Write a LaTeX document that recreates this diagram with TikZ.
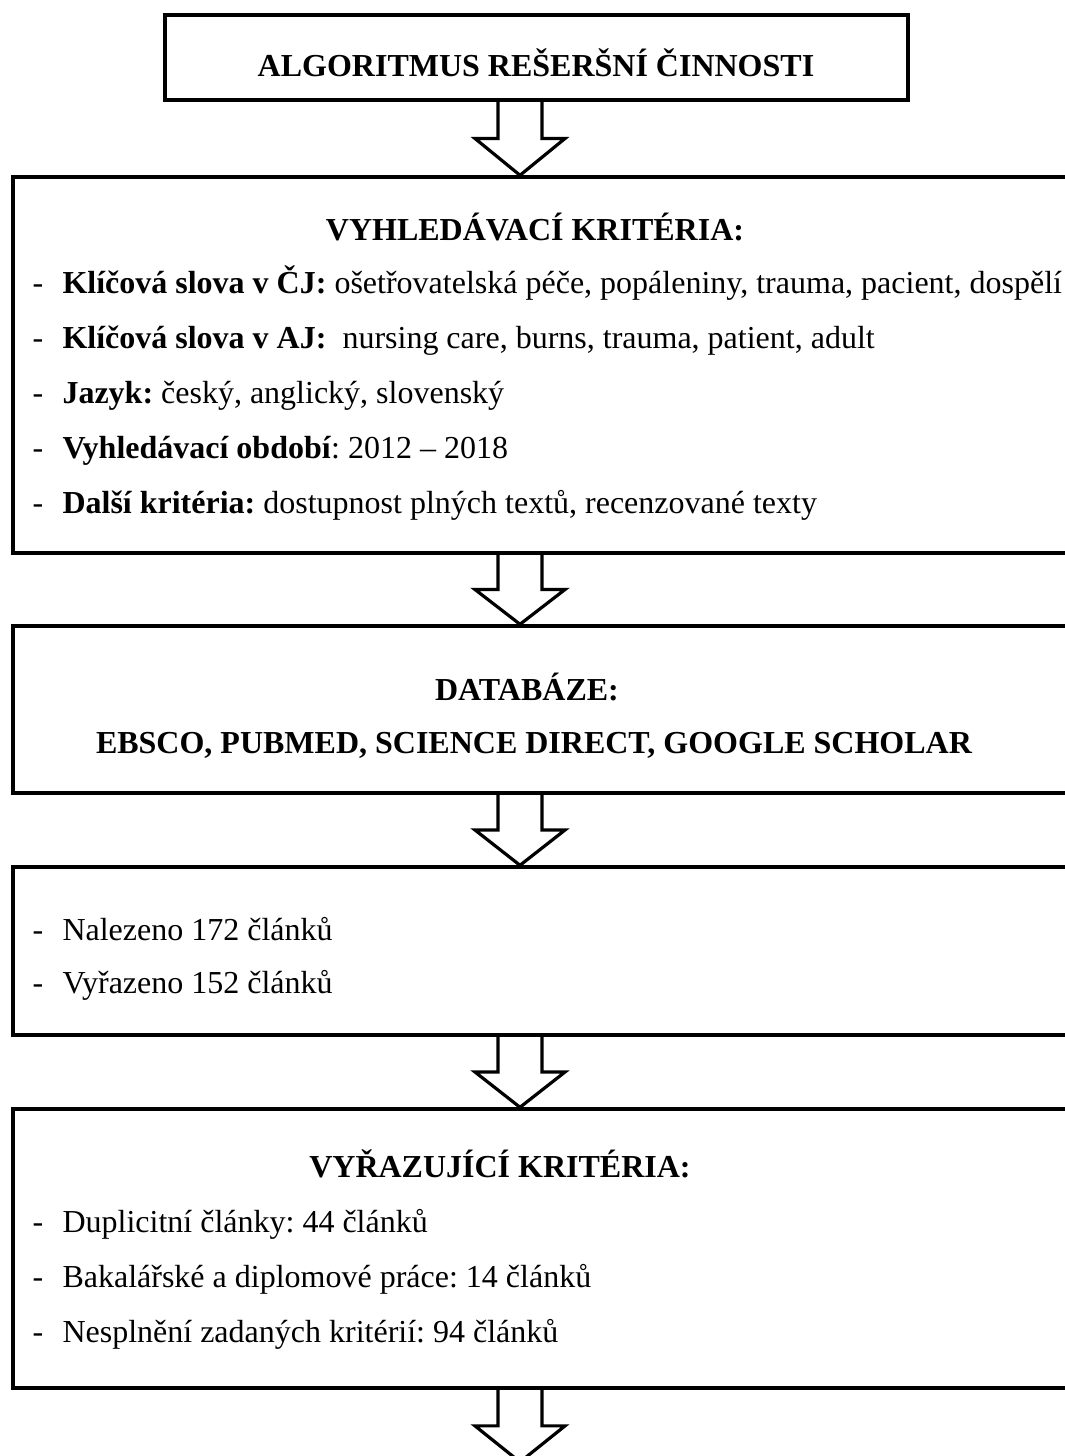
\documentclass[tikz,border=0pt]{standalone}
\usepackage{fontspec}
\setmainfont{Liberation Serif}[BoldFont={Liberation Serif Bold},ItalicFont={Liberation Serif Italic}]
\usetikzlibrary{positioning,calc,fit}
\frenchspacing

\newcommand\basefont{\fontsize{12pt}{14pt}\selectfont}
\newcommand\dashitem[1]{\makebox[11.25pt][l]{-}#1}
% block arrow from one box to the next, on the arrow column ax
\newcommand\blockarrow[2]{%
  \draw[blockarrow] ($(#1 -| ax)+(-22,0)$) -- ($(#1 -| ax)!.5!(#2 -| ax)+(-22,0)$)
    -- ($(#1 -| ax)!.5!(#2 -| ax)+(-45,0)$) -- (#2 -| ax)
    -- ($(#1 -| ax)!.5!(#2 -| ax)+(45,0)$) -- ($(#1 -| ax)!.5!(#2 -| ax)+(22,0)$)
    -- ($(#1 -| ax)+(22,0)$);}

\begin{document}
\begin{tikzpicture}[x=0.375pt,y=-0.375pt,every node/.style={font=\basefont},
      flowbox/.style={draw,line width=1.3pt,inner sep=0pt},
      head/.style={font=\basefont\bfseries,anchor=base,inner sep=0pt},
      item/.style={anchor=base west,inner sep=0pt},
      blockarrow/.style={line width=1.2pt,line join=miter}]
  \clip (0,0) rectangle (1065,1456);
  \coordinate (ax) at (520,0);

  % title
  \node[flowbox,fit={(165,15) (908,100)}] (algo) {};
  \node[head] (algotxt) at (536,77) {ALGORITMUS REŠERŠNÍ ČINNOSTI};

  % search criteria
  \node[flowbox,fit={(13,177) (1100,553)}] (crit) {};
  \node[head] (crittitle) at (535,240) {VYHLEDÁVACÍ KRITÉRIA:};
  \node[item] (crit1) at (32,293) {\dashitem{\textbf{Klíčová slova v ČJ:} ošetřovatelská péče, popáleniny, trauma, pacient, dospělí}};
  \node[item] (crit2) at (32,348) {\dashitem{\textbf{Klíčová slova v AJ:}\ \ nursing care, burns, trauma, patient, adult}};
  \node[item] (crit3) at (32,403) {\dashitem{\textbf{Jazyk:} český, anglický, slovenský}};
  \node[item] (crit4) at (32,458) {\dashitem{\textbf{Vyhledávací období}: 2012 – 2018}};
  \node[item] (crit5) at (32,513) {\dashitem{\textbf{Další kritéria:} dostupnost plných textů, recenzované texty}};

  % databases
  \node[flowbox,fit={(13,626) (1100,793)}] (db) {};
  \node[head] (dbtitle) at (527,700) {DATABÁZE:};
  \node[head] (dblist) at (534,753) {EBSCO, PUBMED, SCIENCE DIRECT, GOOGLE SCHOLAR};

  % results
  \node[flowbox,fit={(13,867) (1100,1035)}] (found) {};
  \node[item] (found1) at (32,940) {\dashitem{Nalezeno 172 článků}};
  \node[item] (found2) at (32,993) {\dashitem{Vyřazeno 152 článků}};

  % exclusion criteria
  \node[flowbox,fit={(13,1109) (1100,1388)}] (excl) {};
  \node[head] (excltitle) at (500,1177) {VYŘAZUJÍCÍ KRITÉRIA:};
  \node[item] (excl1) at (32,1232) {\dashitem{Duplicitní články: 44 článků}};
  \node[item] (excl2) at (32,1287) {\dashitem{Bakalářské a diplomové práce: 14 článků}};
  \node[item] (excl3) at (32,1342) {\dashitem{Nesplnění zadaných kritérií: 94 článků}};
  \coordinate (tail) at (520,1462);

  \blockarrow{algo.south}{crit.north}
  \blockarrow{crit.south}{db.north}
  \blockarrow{db.south}{found.north}
  \blockarrow{found.south}{excl.north}
  \blockarrow{excl.south}{tail}
\end{tikzpicture}
\end{document}
